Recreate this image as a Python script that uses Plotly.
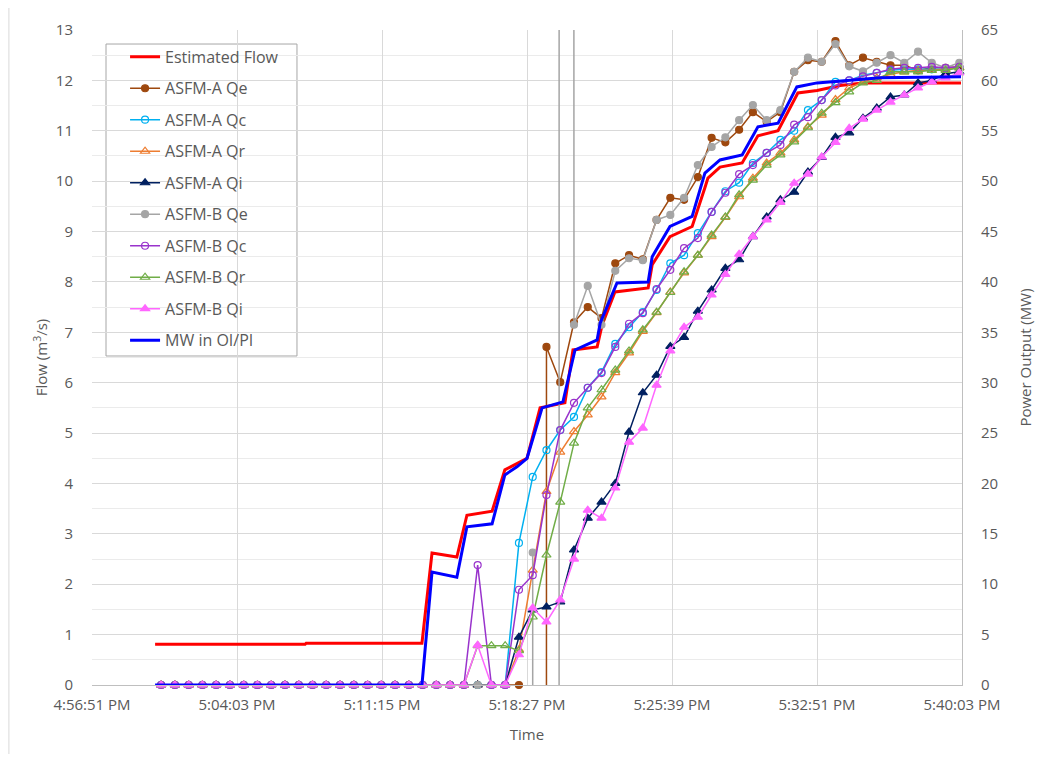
import pandas as pd
import plotly.graph_objects as go

DAY = "2020-01-01 "
FONT = "Open Sans"
GREY_TXT = "#595959"

# ASFM meter samples (logged every 41 s)
asfm_time = pd.date_range(DAY + "17:00:17", periods=59, freq="41s")

asfm_a_qe = [0] * 27 + [-5000, 6.71, 6.01, 7.2, 7.5, 7.28, 8.37, 8.53, 8.45, 9.23, 9.67, 9.63,
                        10.08, 10.86, 10.77, 11.02, 11.37, 11.18, 11.37, 12.17, 12.4, 12.37, 12.78,
                        12.3, 12.45, 12.37, 12.3, 12.3, 12.2, 12.25, 12.25, 12.27]
asfm_a_qc = [0] * 26 + [2.82, 4.13, 4.66, 5.06, 5.32, 5.9, 6.21, 6.77, 7.1, 7.4, 7.84, 8.37, 8.53,
                        8.97, 9.39, 9.8, 9.97, 10.36, 10.56, 10.82, 11.0, 11.41, 11.61, 11.97, 12.0,
                        12.1, 12.15, 12.2, 12.22, 12.22, 12.22, 12.22, 12.25]
asfm_a_qr = [0] * 26 + [0.7, 2.28, 3.84, 4.62, 5.03, 5.36, 5.72, 6.2, 6.59, 7.02, 7.39, 7.8, 8.18,
                        8.53, 8.9, 9.28, 9.69, 10.06, 10.36, 10.56, 10.82, 11.08, 11.31, 11.62,
                        11.85, 11.97, 12.05, 12.12, 12.17, 12.2, 12.2, 12.22, 12.25]
asfm_a_qi = [0] * 26 + [0.95, 1.49, 1.55, 1.65, 2.68, 3.31, 3.63, 4.0, 5.02, 5.8, 6.15, 6.72, 6.9,
                        7.42, 7.84, 8.27, 8.44, 8.9, 9.29, 9.63, 9.78, 10.18, 10.47, 10.87, 10.96,
                        11.25, 11.45, 11.67, 11.71, 11.95, 12.0, 12.13, 12.17]
asfm_b_qe = [0] * 26 + [-3000, 2.63, -9000, 800, 7.15, 7.92, 7.15, 8.22, 8.47, 8.43, 9.23, 9.33,
                        9.67, 10.32, 10.68, 10.87, 11.21, 11.51, 11.21, 11.41, 12.17, 12.45, 12.37,
                        12.72, 12.28, 12.18, 12.35, 12.5, 12.35, 12.57, 12.35, 12.25, 12.35]
asfm_b_qc = [0] * 23 + [2.38, 0, 0, 1.89, 2.18, 3.77, 5.06, 5.6, 5.9, 6.19, 6.71, 7.17, 7.38, 7.86,
                        8.24, 8.67, 8.87, 9.39, 9.77, 10.14, 10.32, 10.56, 10.72, 11.12, 11.27,
                        11.61, 11.9, 12.0, 12.08, 12.15, 12.22, 12.25, 12.25, 12.27, 12.25, 12.27]
asfm_b_qr = [0] * 23 + [0.78, 0.78, 0.78, 0.68, 1.35, 2.58, 3.63, 4.8, 5.5, 5.86, 6.25, 6.63, 7.05,
                        7.4, 7.79, 8.2, 8.53, 8.93, 9.29, 9.73, 10.02, 10.32, 10.52, 10.78, 11.06,
                        11.35, 11.56, 11.77, 11.95, 12.0, 12.17, 12.17, 12.17, 12.2, 12.2, 12.25]
asfm_b_qi = [0] * 23 + [0.79, 0, 0, 0.6, 1.53, 1.25, 1.69, 2.5, 3.47, 3.31, 3.91, 4.82, 5.1, 5.95,
                        6.63, 7.1, 7.3, 7.74, 8.15, 8.55, 8.9, 9.23, 9.58, 9.96, 10.14, 10.48,
                        10.77, 11.05, 11.23, 11.41, 11.57, 11.71, 11.85, 11.97, 12.05, 12.15]

# estimated flow (m3/s)
est_time = ["16:59:59", "17:07:26", "17:07:29", "17:13:14", "17:13:44", "17:14:58", "17:15:28",
            "17:16:43", "17:17:21", "17:17:57", "17:18:27", "17:19:06", "17:20:20", "17:20:44",
            "17:21:56", "17:22:11", "17:22:49", "17:24:28", "17:24:40", "17:25:33", "17:26:39",
            "17:27:17", "17:27:26", "17:28:02", "17:29:08", "17:29:55", "17:30:55", "17:31:54",
            "17:32:51", "17:34:00", "17:35:08", "17:40:00"]
est_flow = [0.81, 0.81, 0.83, 0.83, 2.62, 2.54, 3.37, 3.45, 4.27, 4.4, 4.5, 5.5, 5.6, 6.65, 6.71,
            7.15, 7.8, 7.88, 8.34, 8.9, 9.1, 9.87, 10.06, 10.28, 10.36, 10.9, 11.0, 11.75, 11.8,
            11.9, 11.95, 11.95]

# unit output (MW)
mw_time = ["16:59:59", "17:13:14", "17:13:44", "17:14:58", "17:15:28", "17:16:43", "17:17:21",
           "17:17:57", "17:18:27", "17:19:12", "17:20:14", "17:20:50", "17:21:56", "17:22:05",
           "17:22:55", "17:24:28", "17:24:40", "17:25:33", "17:26:39", "17:27:17", "17:28:02",
           "17:29:08", "17:29:55", "17:30:55", "17:31:51", "17:32:51", "17:35:59", "17:40:00"]
mw_value = [0, 0, 11.2, 10.7, 15.7, 16.0, 20.85, 21.65, 22.5, 27.5, 28.1, 33.25, 34.25, 35.9,
            39.9, 40.0, 42.5, 45.5, 46.5, 50.8, 52.1, 52.6, 55.4, 55.75, 59.35, 59.75, 60.25, 60.35]

x_tick_time = ["16:56:51", "17:04:03", "17:11:15", "17:18:27", "17:25:39", "17:32:51", "17:40:03"]
x_tick_text = ["4:56:51 PM", "5:04:03 PM", "5:11:15 PM", "5:18:27 PM", "5:25:39 PM",
               "5:32:51 PM", "5:40:03 PM"]

fig = go.Figure()

fig.add_trace(go.Scatter(
    x=[DAY + t for t in est_time], y=est_flow, name="Estimated Flow", mode="lines",
    line=dict(color="#FF0000", width=3), legendgroup="g0"))

asfm = [
    ("ASFM-A Qe", asfm_a_qe, "#9E480E", "circle", 7),
    ("ASFM-A Qc", asfm_a_qc, "#00B0F0", "circle-open", 7),
    ("ASFM-A Qr", asfm_a_qr, "#ED7D31", "triangle-up-open", 8),
    ("ASFM-A Qi", asfm_a_qi, "#002060", "triangle-up", 8),
    ("ASFM-B Qe", asfm_b_qe, "#A5A5A5", "circle", 7),
    ("ASFM-B Qc", asfm_b_qc, "#9933CC", "circle-open", 7),
    ("ASFM-B Qr", asfm_b_qr, "#70AD47", "triangle-up-open", 8),
    ("ASFM-B Qi", asfm_b_qi, "#FF66FF", "triangle-up", 8),
]
for k, (name, vals, col, sym, size) in enumerate(asfm):
    fig.add_trace(go.Scatter(
        x=asfm_time, y=vals, name=name, mode="lines+markers",
        line=dict(color=col, width=1.5),
        marker=dict(color=col, symbol=sym, size=size, line=dict(color=col, width=1.2)),
        cliponaxis=False, legendgroup="g%d" % (k + 1)))

fig.add_trace(go.Scatter(
    x=[DAY + t for t in mw_time], y=mw_value, name="MW in OI/PI", mode="lines",
    line=dict(color="#0000FF", width=3), yaxis="y2", legendgroup="g9"))

tick_font = dict(family=FONT, size=15, color=GREY_TXT)
title_font = dict(family=FONT, size=15, color=GREY_TXT)

# page body has an 8px margin, so the figure is a bit smaller than the window
fig.update_layout(
    width=1027, height=746,
    margin=dict(l=84, r=73, t=22, b=69, autoexpand=False),
    paper_bgcolor="white", plot_bgcolor="white",
    font=dict(family=FONT, color=GREY_TXT),
    xaxis=dict(
        range=[DAY + "16:56:51", DAY + "17:40:03"],
        tickvals=[DAY + t for t in x_tick_time], ticktext=x_tick_text,
        tickfont=tick_font, ticklabelstandoff=6, automargin=False,
        showgrid=True, gridcolor="#D9D9D9", gridwidth=1,
        showline=True, linecolor="#BFBFBF", linewidth=1, zeroline=False,
        title=dict(text="Time", font=title_font, standoff=16),
    ),
    yaxis=dict(
        range=[0, 13], dtick=1, tickfont=tick_font, ticklabelstandoff=18, automargin=False,
        showgrid=True, gridcolor="#D9D9D9", zeroline=False,
        minor=dict(dtick=0.5, showgrid=True, gridcolor="#EBEBEB"),
        title=dict(text="Flow (m<sup>3</sup>/s)", font=title_font, standoff=4),
    ),
    yaxis2=dict(
        range=[0, 65], dtick=5, overlaying="y", side="right", tickfont=tick_font,
        ticklabelstandoff=15, automargin=False,
        showgrid=False, zeroline=False, showline=True, linecolor="#BFBFBF",
        title=dict(text="Power Output (MW)", font=title_font, standoff=24),
    ),
    legend=dict(
        x=0.038, y=0.985, xanchor="left", yanchor="top",
        bgcolor="rgba(0,0,0,0)", borderwidth=0, tracegroupgap=7.7,
        font=dict(family=FONT, size=16, color=GREY_TXT),
    ),
    shapes=[
        # legend box, white so that the gridlines stay hidden behind it
        dict(type="rect", xref="paper", yref="paper", x0=0.0161, x1=0.2356, y0=0.5023, y1=0.9786,
             line=dict(color="#A6A6A6", width=1), fillcolor="white", layer="between"),
        # outer chart border (left edge)
        dict(type="line", xref="paper", yref="paper", x0=-0.0955, x1=-0.0955, y0=-0.11, y1=1.04,
             line=dict(color="#D9D9D9", width=1)),
    ],
)

fig.write_html("out.html")
